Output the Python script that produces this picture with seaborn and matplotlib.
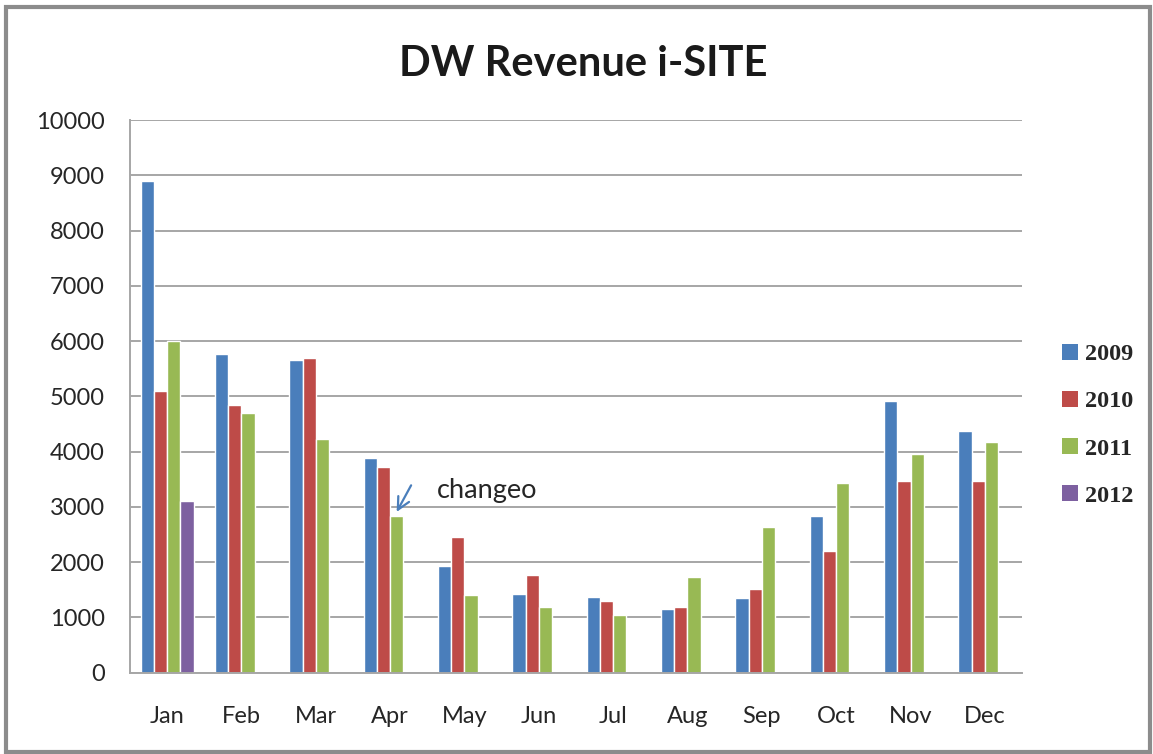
import pandas as pd
import matplotlib.pyplot as plt
import seaborn as sns
from matplotlib.patches import Rectangle, Patch

months = ['Jan', 'Feb', 'Mar', 'Apr', 'May', 'Jun', 'Jul', 'Aug', 'Sep', 'Oct', 'Nov', 'Dec']
years = ['2009', '2010', '2011', '2012']
rev_2009 = [8900, 5775, 5655, 3880, 1930, 1425, 1365, 1145, 1350, 2835, 4915, 4365]
rev_2010 = [5100, 4850, 5700, 3725, 2460, 1775, 1290, 1195, 1520, 2195, 3465, 3465]
rev_2011 = [6000, 4700, 4230, 2835, 1410, 1195, 1050, 1730, 2630, 3440, 3955, 4175]
rev_2012 = [3110]  # only January so far

colors = {'2009': '#4A7EBB', '2010': '#BE4B48', '2011': '#98B954', '2012': '#7D60A0'}

# long format table for seaborn
rows = []
for yr, vals in zip(years, [rev_2009, rev_2010, rev_2011, rev_2012]):
    for m, v in zip(months, vals):
        rows.append({'Month': m, 'Year': yr, 'Revenue': v})
data = pd.DataFrame(rows)

sns.set_style('white')
plt.rcParams['font.family'] = ['Lato', 'DejaVu Sans']

fig = plt.figure(figsize=(11.53, 7.54), dpi=100)
ax = fig.add_axes([0.1127, 0.1078, 0.7737, 0.733])

sns.barplot(data=data, x='Month', y='Revenue', hue='Year', order=months,
            hue_order=years, palette=colors, width=0.715, gap=0,
            saturation=1, ax=ax, legend=False)

ax.set_ylim(0, 10000)
ax.set_yticks(range(0, 10001, 1000))
ax.yaxis.grid(True, color='#A6A6A6', lw=1.4)
ax.set_axisbelow(True)
ax.set_xlabel('')
ax.set_ylabel('')
for s in ['top', 'right']:
    ax.spines[s].set_visible(False)
for s in ['left', 'bottom']:
    ax.spines[s].set_color('#A6A6A6')
    ax.spines[s].set_linewidth(1.4)
ax.tick_params(axis='y', length=4, color='#A6A6A6', labelsize=17, pad=14, labelcolor='#262626')
ax.tick_params(axis='x', length=0, labelsize=17, pad=24, labelcolor='#262626')

fig.suptitle('DW Revenue i-SITE', x=0.506, y=0.94, fontsize=30, fontweight='bold',
             color='#1a1a1a')

# annotation on April 2011
apr = months.index('Apr')
ax.annotate('', xy=(apr + 0.07, rev_2011[apr] + 30), xytext=(apr + 0.3, rev_2011[apr] + 600),
            arrowprops=dict(arrowstyle='->', color='#4A7EBB', lw=1.6, mutation_scale=22))
ax.text(apr + 0.63, rev_2011[apr] + 460, 'changeo', fontsize=19.5, color='#262626', va='center')

handles = [Patch(facecolor=colors[y], edgecolor='none') for y in years]
leg = ax.legend(handles, years, loc='center left', bbox_to_anchor=(1.02, 0.448),
                frameon=False, handlelength=0.65, handleheight=0.65, handletextpad=0.3,
                labelspacing=1.05,
                prop={'family': 'Liberation Serif', 'weight': 'bold', 'size': 17.5})

fig.patches.append(Rectangle((0.0055, 0.003), 0.992, 0.988, transform=fig.transFigure,
                             fill=False, edgecolor='#8C8C8C', lw=3))

plt.savefig('out.png', dpi=100)
